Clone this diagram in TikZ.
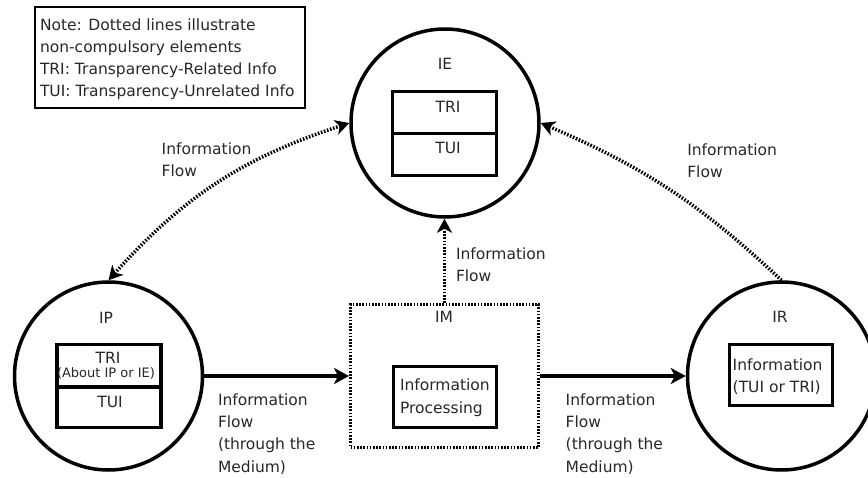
\documentclass[tikz,border=0pt]{standalone}
\usepackage{fontspec}
\setmainfont{DejaVu Sans}
\usetikzlibrary{arrows.meta}
\definecolor{txt}{RGB}{40,40,40}
\begin{document}
\begin{tikzpicture}[x=1pt,y=-1pt,
  lbl/.style={font=\fontsize{15.5}{22.3}\selectfont, text=txt, inner sep=0pt, outer sep=0pt},
  small/.style={font=\fontsize{13}{14}\selectfont, text=txt, inner sep=0pt, outer sep=0pt},
  actor/.style={circle, draw=black, line width=3.5pt, minimum size=188pt, inner sep=0pt},
  cell/.style={draw=black, line width=3.3pt, minimum width=104pt, minimum height=42pt, inner sep=0pt},
  infobox/.style={draw=black, line width=3.5pt, minimum width=103pt, minimum height=61pt, inner sep=0pt},
  dotbox/.style={draw=black, line width=3pt, dash pattern=on 1.6pt off 1.6pt, minimum width=188pt, minimum height=143pt, inner sep=0pt},
  notebox/.style={draw=black, line width=1.8pt, minimum width=270pt, minimum height=101pt, inner sep=0pt},
  solidarrow/.style={draw=black, line width=4pt, -{Stealth[length=15pt,width=16pt,inset=4pt]}},
  dotarrow/.style={draw=black, line width=3.5pt, dash pattern=on 1.6pt off 1.6pt, -{Stealth[length=14pt,width=15pt,inset=4pt]}},
  dotarrows/.style={draw=black, line width=3.5pt, dash pattern=on 1.6pt off 1.6pt, {Stealth[length=14pt,width=15pt,inset=4pt]}-{Stealth[length=14pt,width=15pt,inset=4pt]}}
]
\useasboundingbox[fill=white] (0,0) rectangle (868,478);

% note
\node[notebox, anchor=north west] (note) at (33.9,5.9) {};
\node[lbl, anchor=north west, align=left] (notetext) at (40,18.3)
  {Note: Dotted lines illustrate\\non-compulsory elements\\TRI: Transparency-Related Info\\TUI: Transparency-Unrelated Info};

% IE
\node[actor] (IE) at (445,123) {};
\node[lbl, anchor=base] (IElbl) at (445,70) {IE};
\node[cell] (IEtri) at (444.5,112.3) {};
\node[cell] (IEtui) at (444.5,154.3) {};
\node[lbl, anchor=base] (IEtritxt) at (448,113) {TRI};
\node[lbl, anchor=base] (IEtuitxt) at (448,154) {TUI};

% IP
\node[actor] (IP) at (108.5,376) {};
\node[lbl, anchor=base] (IPlbl) at (106,324) {IP};
\node[cell] (IPtri) at (109,365.8) {};
\node[cell, minimum height=40.5pt] (IPtui) at (109,407.2) {};
\node[lbl, anchor=base] (IPtritxt) at (108,364) {TRI};
\node[small, anchor=base] (IPabout) at (106,378) {(About IP or IE)};
\node[lbl, anchor=base] (IPtuitxt) at (110,408) {TUI};

% IR
\node[actor] (IR) at (781.5,376) {};
\node[lbl, anchor=base] (IRlbl) at (780,323) {IR};
\node[infobox] (IRbox) at (781,375) {};
\node[lbl, anchor=north west, align=left] (IRtxt) at (732.7,358.5) {Information\\(TUI or TRI)};

% IM
\node[dotbox] (IM) at (444.5,376) {};
\node[lbl, anchor=base] (IMlbl) at (444,323) {IM};
\node[infobox] (IMbox) at (445,397) {};
\node[lbl, anchor=north west, align=left] (IMtxt) at (400,379) {Information\\Processing};

% connectors
\draw[solidarrow] (IP.east) -- (IM.west);
\draw[solidarrow] (IM.east) -- (IR.west);
\draw[dotarrow] (IM.north) -- (IM.north |- IE.south);
\draw[dotarrows] (IP.north) to[bend left=15] (IE.west);
\draw[dotarrow] (IR.north) to[bend right=10] (IE.east);

% flow labels
\node[lbl, anchor=north west, align=left] (flowA) at (218,393.5) {Information\\Flow\\(through the\\Medium)};
\node[lbl, anchor=north west, align=left] (flowB) at (565.7,393.5) {Information\\Flow\\(through the\\Medium)};
\node[lbl, anchor=north west, align=left] (flowC) at (456,247.8) {Information\\Flow};
\node[lbl, anchor=north west, align=left] (flowD) at (161.7,142.8) {Information\\Flow};
\node[lbl, anchor=north west, align=left] (flowE) at (687.3,143.3) {Information\\Flow};
\end{tikzpicture}
\end{document}
